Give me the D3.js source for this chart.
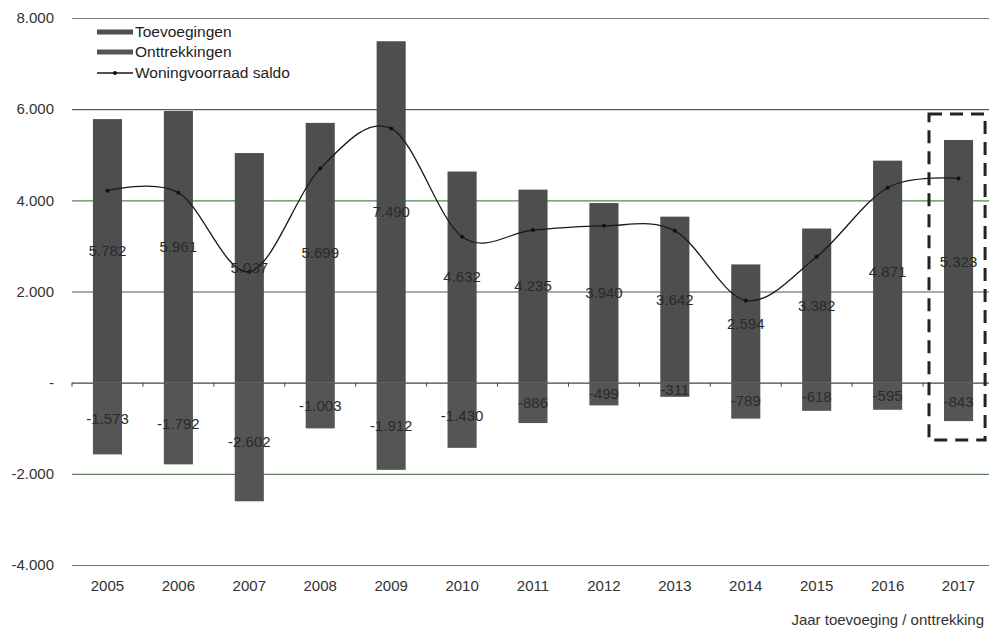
<!DOCTYPE html>
<html>
<head>
<meta charset="utf-8">
<script src="https://cdn.jsdelivr.net/npm/d3@7"></script>
<style>
  html, body { margin: 0; padding: 0; background: #fff; }
  svg { display: block; font-family: "Liberation Sans", Arial, sans-serif; }
</style>
</head>
<body>
<svg id="chart" width="989" height="632"></svg>
<script>
// Woningvoorraad: toevoegingen, onttrekkingen en saldo per jaar
const years = ["2005","2006","2007","2008","2009","2010","2011","2012","2013","2014","2015","2016","2017"];
const toevoegingen = [5782, 5961, 5037, 5699, 7490, 4632, 4235, 3940, 3642, 2594, 3382, 4871, 5323];
const onttrekkingen = [-1573, -1792, -2602, -1003, -1912, -1430, -886, -499, -311, -789, -618, -595, -843];
const saldo = [4209, 4169, 2435, 4696, 5578, 3202, 3349, 3441, 3331, 1805, 2764, 4276, 4480];
const yTicks = [8000, 6000, 4000, 2000, 0, -2000, -4000];
const legendLabels = ["Toevoegingen", "Onttrekkingen", "Woningvoorraad saldo"];
const xTitle = "Jaar toevoeging / onttrekking";
const highlightYear = "2017";

const svg = d3.select("#chart");
const plotLeft = 72, plotRight = 994, plotTop = 18, plotBottom = 565;

const x = d3.scaleBand().domain(years).range([plotLeft, plotRight]).paddingInner(0.59).paddingOuter(0.295);
const y = d3.scaleLinear().domain([-4000, 8000]).range([plotBottom, plotTop]);

const nl = d3.formatLocale({ decimal: ",", thousands: ".", grouping: [3], currency: ["€", ""], minus: "-" });
const fmt = nl.format(",d");
const tickFmt = v => v === 0 ? "-" : fmt(v);

const gridColor = { "8000": "#7a7a7a", "6000": "#5a5a5a", "4000": "#4f8a4f", "2000": "#555", "0": "#444", "-2000": "#5f7d5f", "-4000": "#6b7d6b" };

// horizontal gridlines
svg.append("g").selectAll("line").data(yTicks).join("line")
  .attr("x1", plotLeft).attr("x2", 989)
  .attr("y1", d => y(d) + 0.5).attr("y2", d => y(d) + 0.5)
  .attr("stroke", d => gridColor[d]).attr("stroke-width", 1.1);

// y axis labels
svg.append("g").selectAll("text").data(yTicks).join("text")
  .attr("x", 54).attr("y", d => y(d)).attr("dy", "0.35em")
  .attr("text-anchor", "end").attr("font-size", 15).attr("fill", "#333")
  .text(tickFmt);

// small tick marks on the zero line between categories
const step = x.step();
const bounds = d3.range(years.length + 1).map(i => plotLeft + i * step);
svg.append("g").selectAll("line").data(bounds).join("line")
  .attr("x1", d => d).attr("x2", d => d)
  .attr("y1", y(0)).attr("y2", y(0) + 4)
  .attr("stroke", "#444").attr("stroke-width", 1);

// bars
const bw = x.bandwidth();
svg.append("g").selectAll("rect").data(years).join("rect")
  .attr("x", d => x(d)).attr("width", bw)
  .attr("y", (d, i) => y(toevoegingen[i]))
  .attr("height", (d, i) => y(0) - y(toevoegingen[i]))
  .attr("fill", "#4e4e4e");
svg.append("g").selectAll("rect").data(years).join("rect")
  .attr("x", d => x(d)).attr("width", bw)
  .attr("y", y(0))
  .attr("height", (d, i) => y(onttrekkingen[i]) - y(0))
  .attr("fill", "#555555");

// saldo line (smoothed)
const line = d3.line()
  .x((d, i) => x(years[i]) + bw / 2)
  .y(d => y(d))
  .curve(d3.curveCardinal.tension(0));
svg.append("path").datum(saldo)
  .attr("d", line).attr("fill", "none")
  .attr("stroke", "#1a1a1a").attr("stroke-width", 1.3);
svg.append("g").selectAll("circle").data(saldo).join("circle")
  .attr("cx", (d, i) => x(years[i]) + bw / 2).attr("cy", d => y(d))
  .attr("r", 2).attr("fill", "#111");

// value labels in the middle of each bar
const labelG = svg.append("g").attr("font-size", 15).attr("fill", "#2a2a2a").attr("text-anchor", "middle");
labelG.selectAll("text.pos").data(toevoegingen).join("text").attr("class", "pos")
  .attr("x", (d, i) => x(years[i]) + bw / 2).attr("y", d => y(d / 2)).attr("dy", "0.35em")
  .text(fmt);
labelG.selectAll("text.neg").data(onttrekkingen).join("text").attr("class", "neg")
  .attr("x", (d, i) => x(years[i]) + bw / 2).attr("y", d => y(d / 2)).attr("dy", "0.35em")
  .text(fmt);

// x axis labels and title
svg.append("g").selectAll("text").data(years).join("text")
  .attr("x", d => x(d) + bw / 2).attr("y", 591)
  .attr("text-anchor", "middle").attr("font-size", 15).attr("fill", "#333")
  .text(d => d);
svg.append("text").attr("x", 984).attr("y", 625)
  .attr("text-anchor", "end").attr("font-size", 15).attr("fill", "#333")
  .text(xTitle);

// dashed frame around the highlighted year
const hi = years.indexOf(highlightYear);
const hx = x(highlightYear);
svg.append("rect")
  .attr("x", hx - 15).attr("y", y(toevoegingen[hi]) - 26)
  .attr("width", bw + 27)
  .attr("height", y(onttrekkingen[hi]) - y(toevoegingen[hi]) + 45)
  .attr("fill", "none").attr("stroke", "#222").attr("stroke-width", 3)
  .attr("stroke-dasharray", "13,8");

// legend
const lg = svg.append("g").attr("font-size", 15.5).attr("fill", "#222");
const ly = [32, 52, 73];
lg.append("rect").attr("x", 97).attr("y", ly[0] - 2.5).attr("width", 36).attr("height", 5).attr("fill", "#4e4e4e");
lg.append("rect").attr("x", 97).attr("y", ly[1] - 2.5).attr("width", 36).attr("height", 5).attr("fill", "#555555");
lg.append("line").attr("x1", 97).attr("x2", 133).attr("y1", ly[2]).attr("y2", ly[2]).attr("stroke", "#1a1a1a").attr("stroke-width", 1.3);
lg.append("circle").attr("cx", 115).attr("cy", ly[2]).attr("r", 2).attr("fill", "#111");
lg.selectAll("text").data(legendLabels).join("text")
  .attr("x", 135).attr("y", (d, i) => ly[i]).attr("dy", "0.35em")
  .text(d => d);
</script>
</body>
</html>
